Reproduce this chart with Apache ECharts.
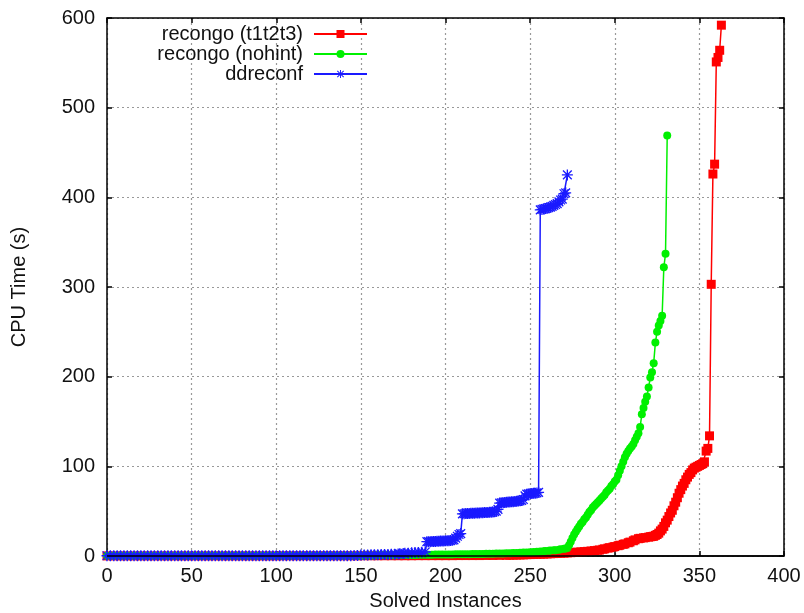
<!DOCTYPE html>
<html><head><meta charset="utf-8">
<script src="https://cdn.jsdelivr.net/npm/echarts@6/dist/echarts.min.js"></script>
<style>html,body{margin:0;padding:0;background:#fff}#c{width:804px;height:613px}</style>
</head><body><div id="c"></div>
<script>
const seriesNames = ['recongo (t1t2t3)', 'recongo (nohint)', 'ddreconf'];
const xTickMin = 0, xTickMax = 400, xTickStep = 50;
const yTickMin = 0, yTickMax = 600, yTickStep = 100;

const redPoints = [
[0,0.1],[4,0.1],[8,0.1],[12,0.1],[16,0.1],[20,0.1],[24,0.1],[28,0.1],[32,0.1],[36,0.1],[40,0.1],[44,0.1],[48,0.1],[52,0.1],[56,0.1],[60,0.1],[64,0.1],[68,0.1],[72,0.1],[76,0.1],[80,0.1],[84,0.1],[88,0.1],[92,0.1],[96,0.1],[100,0.1],
[104,0.2],[108,0.2],[112,0.2],[116,0.2],[120,0.2],[124,0.2],[128,0.2],[132,0.2],[136,0.2],[140,0.2],[144,0.2],[148,0.2],[152,0.3],[156,0.3],[160,0.3],[164,0.3],[168,0.3],[172,0.3],[176,0.3],[180,0.3],[184,0.4],[188,0.4],[192,0.4],[196,0.4],[200,0.4],[204,0.4],[208,0.5],[212,0.5],[216,0.5],[220,0.5],[224,0.6],[228,0.6],[232,0.7],
[236,0.8],[238,0.9],[240,1],[242,1.1],[244,1.2],[246,1.3],[248,1.5],[250,1.6],[252,1.8],[254,1.9],[256,2],[258,2.1],[260,2.3],[262,2.5],[264,2.7],[266,2.8],[268,3],[270,3.2],[272,3.5],[274,3.7],[276,4],[278,4.3],[280,4.6],[282,4.9],[284,5.2],[286,5.6],[288,6],[290,6.4],[291,6.7],[293,7.5],[294,8],[296,8.8],[297,9.3],[299,10],[300,10.5],[302,11.5],[303,12],[305,13],[306,13.5],[308,14.8],[309,15.5],[311,17],[312,18],[314,19.3],[315,19.7],[317,20.2],[318,20.5],[320,21],[321,21.5],[322,21.8],[323,22],[324,23],[325,24],[326,25.5],[327,28],[328,30],[329,33],[330,37],[331,40],[332,44],[333,48],[334,51],[335,56],[336,60],[337,65],[338,70],[339,74],[340,78],[341,81],[342,85],[343,88],[344,91],[345,93],[346,96],[347,98],[348,99],[349,100],[350,101],[351,102],[352,103],[353,105],[354,117],[355,120],[356,134],[357,303],[358,426],[359,437],[360,551],[361,556],[362,564],[363,592]
];

const greenPoints = [
[0,0.2],[4,0.2],[8,0.2],[12,0.2],[16,0.2],[20,0.2],[24,0.2],[28,0.2],[32,0.2],[36,0.2],[40,0.2],[44,0.2],[48,0.2],[52,0.2],[56,0.2],[60,0.2],[64,0.2],[68,0.2],[72,0.2],[76,0.2],[80,0.2],[84,0.2],[88,0.2],[92,0.2],[96,0.2],[100,0.2],[104,0.3],[108,0.3],[112,0.3],[116,0.3],[120,0.3],[124,0.3],[128,0.3],[132,0.3],[136,0.3],[140,0.3],[144,0.3],[148,0.3],
[150,0.4],[152,0.5],[154,0.55],[156,0.6],[158,0.65],[160,0.7],[162,0.75],[164,0.8],[166,0.85],[168,0.9],[170,0.95],[172,1],[174,1.05],[176,1.1],[178,1.15],[180,1.2],[182,1.25],[184,1.3],[186,1.35],[188,1.4],[190,1.45],[192,1.5],[194,1.55],[196,1.6],[198,1.65],[200,1.7],[202,1.75],[204,1.8],[206,1.85],[208,1.9],[210,1.95],[212,2],[214,2.05],[216,2.1],[218,2.15],[220,2.2],[222,2.3],[224,2.4],[226,2.5],[228,2.6],[230,2.7],[232,2.8],[234,2.9],[236,3],[238,3.15],[240,3.3],[242,3.45],[244,3.6],[246,3.8],[248,4],[250,4.2],[252,4.5],[254,4.7],[256,5],[258,5.3],[259,5.5],[261,5.8],[262,6],[264,6.3],[265,6.5],[267,7],[268,7.5],[270,8],[271,8.5],
[272,9],[273,12],[274,16],[275,20],[276,24],[277,27],[278,30],[279,33],[280,36],[281,38],[282,41],[283,43],[284,46],[285,49],[286,51],[287,54],[288,56],[289,58],[290,60],[291,62],[292,64],[293,66],[294,68],[295,71],[296,73],[297,75],[298,78],[299,80],[300,83],[301,85],[302,90],[303,95],[304,100],[305,105],[306,110],[307,114],[308,117],[309,120],[310,122],[311,125],[312,129],[313,133],[314,137],[315,144],[316,158],[317,165],[318,172],[319,178],[320,188],[321,199],[322,205],[323,215],[324,238],[325,250],[326,257],[327,262],[328,268],[329,322],[330,337],[331,469]
];

const bluePoints = [
[0,0.3],[2,0.3],[4,0.3],[6,0.3],[8,0.3],[10,0.3],[12,0.3],[14,0.3],[16,0.3],[18,0.3],[20,0.3],[22,0.3],[24,0.3],[26,0.3],[28,0.3],[30,0.3],[32,0.3],[34,0.3],[36,0.3],[38,0.3],[40,0.3],[42,0.3],[44,0.3],[46,0.3],[48,0.3],[50,0.3],[52,0.3],[54,0.3],[56,0.3],[58,0.3],[60,0.3],[62,0.3],[64,0.3],[66,0.3],[68,0.3],[70,0.3],[72,0.3],[74,0.3],[76,0.3],[78,0.3],[80,0.3],[82,0.3],[84,0.3],[86,0.3],[88,0.3],[90,0.3],[92,0.3],[94,0.3],[96,0.3],[98,0.3],[100,0.3],
[102,0.4],[104,0.4],[106,0.4],[108,0.4],[110,0.4],[112,0.4],[114,0.4],[116,0.4],[118,0.4],[120,0.4],[122,0.4],[124,0.4],[126,0.4],[128,0.4],[130,0.4],[132,0.4],[134,0.4],[136,0.4],[138,0.4],[140,0.4],[142,0.4],[144,0.4],[146,0.5],[148,0.5],
[150,1],[152,1.1],[154,1.2],[156,1.3],[158,1.4],[160,1.5],[162,1.6],[164,1.7],[166,1.8],[168,1.9],[170,2],[172,2.3],[173,2.5],[175,2.8],[176,3],[178,3.2],[180,3.5],[182,3.8],[184,4],[186,4.2],[188,4.5],
[189,16],[190,16],[191,16],[192,16.1],[193,16.2],[194,16.3],[195,16.4],[196,16.5],[197,16.6],[198,16.7],[199,16.8],[200,16.9],[201,17],[202,17.1],[203,17.3],[204,17.6],[205,18],[206,20],[207,22],[208,24],[209,25],
[210,47],[211,47.1],[212,47.3],[213,47.4],[214,47.5],[215,47.6],[216,47.7],[217,47.8],[218,48],[219,48],[220,48],[221,48.1],[222,48.3],[223,48.4],[224,48.5],[225,48.6],[226,48.7],[227,48.8],[228,49],[229,49.4],[230,50],[231,52],
[232,59],[233,59.2],[234,59.5],[235,59.8],[236,60],[237,60.1],[238,60.3],[239,60.4],[240,60.6],[241,60.8],[242,61],[243,61.2],[244,61.5],[245,62],[246,63],[247,67],[248,69],[249,69.2],[250,69.5],[251,69.8],[252,70],[253,70.1],[254,70.3],[255,71],
[256,386],[257,386.5],[258,387],[259,387.5],[260,388],[261,388.5],[262,389],[263,390],[264,391],[265,392],[266,393],[267,395],[268,397],[269,398],[270,404],[271,405],[272,425]
];

const font = "'Liberation Sans', Arial, Helvetica, sans-serif";
const asterisk = 'path://M0 8.8H20V11.2H0Z M8.8 0H11.2V20H8.8Z M1.2 2.9L2.9 1.2L18.8 17.1L17.1 18.8Z M17.1 1.2L18.8 2.9L2.9 18.8L1.2 17.1Z';
const axisLineStyle = {color: '#000', width: 1.5};
const gridLineStyle = {color: '#999', type: [2, 3], width: 1.2};

function mkX(pos, main) {
  return {
    type: 'value', position: pos, min: xTickMin, max: xTickMax, interval: xTickStep,
    name: main ? 'Solved Instances' : '', nameLocation: 'middle', nameGap: 35,
    nameTextStyle: {fontSize: 20, color: '#111', fontFamily: font},
    axisLine: {show: true, onZero: false, lineStyle: axisLineStyle},
    axisTick: {show: true, inside: true, length: 5, lineStyle: axisLineStyle},
    axisLabel: {show: main, fontSize: 20, color: '#111', margin: 10, fontFamily: font},
    splitLine: {show: main, lineStyle: gridLineStyle}
  };
}
function mkY(pos, main) {
  return {
    type: 'value', position: pos, min: yTickMin, max: yTickMax, interval: yTickStep,
    name: main ? 'CPU Time (s)' : '', nameLocation: 'middle', nameGap: 78,
    nameTextStyle: {fontSize: 20, color: '#111', fontFamily: font},
    axisLine: {show: true, onZero: false, lineStyle: axisLineStyle},
    axisTick: {show: true, inside: true, length: 5, lineStyle: axisLineStyle},
    axisLabel: {show: main, fontSize: 20, color: '#111', margin: 12, fontFamily: font},
    splitLine: {show: main, lineStyle: gridLineStyle}
  };
}

const chart = echarts.init(document.getElementById('c'), null, {renderer: 'canvas'});
chart.setOption({
  animation: false,
  backgroundColor: '#fff',
  textStyle: {fontFamily: font},
  grid: {left: 107, right: 20, top: 18, bottom: 57, outerBoundsMode: 'none', containLabel: false},
  legend: {
    orient: 'vertical', align: 'right', right: 436, top: 24, padding: 0, itemGap: 0,
    itemWidth: 53, itemHeight: 10, data: seriesNames,
    textStyle: {fontSize: 20, color: '#111', fontFamily: font, lineHeight: 19.5, padding: [0, 6, 0, 0]}
  },
  xAxis: [mkX('bottom', true), mkX('top', false)],
  yAxis: [mkY('left', true), mkY('right', false)],
  series: [
    {name: seriesNames[0], type: 'line', xAxisIndex: 0, yAxisIndex: 0, data: redPoints,
     symbol: 'rect', symbolSize: 9, lineStyle: {color: '#ff0000', width: 1.5}, itemStyle: {color: '#ff0000'}},
    {name: seriesNames[1], type: 'line', xAxisIndex: 0, yAxisIndex: 0, data: greenPoints,
     symbol: 'circle', symbolSize: 8, lineStyle: {color: '#00f000', width: 1.5}, itemStyle: {color: '#00f000'}},
    {name: seriesNames[2], type: 'line', xAxisIndex: 0, yAxisIndex: 0, data: bluePoints,
     symbol: asterisk, symbolSize: 11, lineStyle: {color: '#1a1aff', width: 1.5}, itemStyle: {color: '#1a1aff'},
     markLine: {silent: true, symbol: ['none', 'none'], label: {show: false}, animation: false,
       lineStyle: {color: '#000', width: 1.5, type: 'solid'}, data: [{yAxis: 0}]}}
  ]
});
</script>
</body></html>
